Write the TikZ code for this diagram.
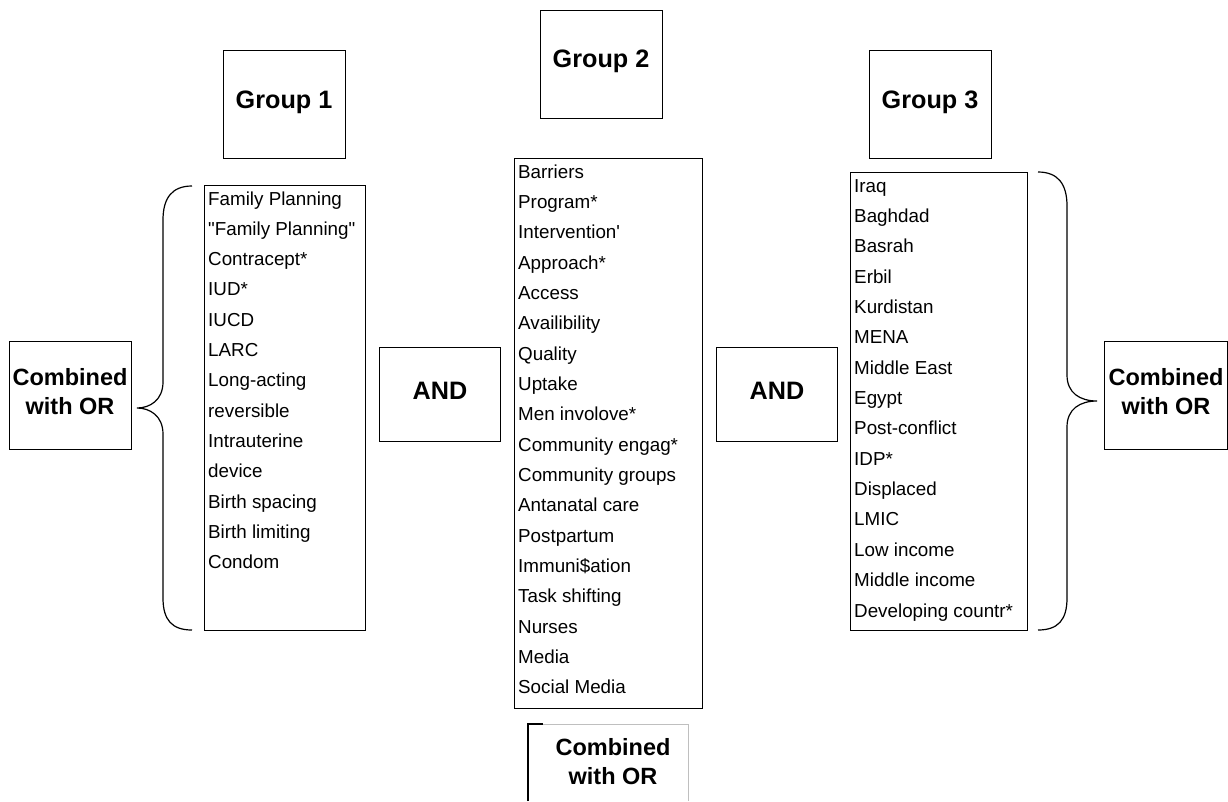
\documentclass[tikz,border=0pt]{standalone}
\usepackage{fontspec}
\setmainfont{Liberation Sans}
\newcommand\mydq{\XeTeXglyph\XeTeXcharglyph34\relax}
\newcommand\mysq{\XeTeXglyph\XeTeXcharglyph39\relax}
\begin{document}
\begin{tikzpicture}[x=1pt,y=-1pt,
  box/.style={draw=black,line width=1.2pt,inner sep=0pt,anchor=north west},
  lbl/.style={font=\fontsize{23.5}{29}\selectfont\bfseries,align=center,inner sep=0pt},
  big/.style={font=\fontsize{25.2}{29}\selectfont\bfseries,align=center,inner sep=0pt},
  item/.style={font=\fontsize{18.8}{22}\selectfont,anchor=base west,inner sep=0pt},
  brace/.style={draw=black,line width=1.2pt}]
\useasboundingbox (0,0) rectangle (1228,801);
% group header boxes
\node[box,minimum width=122pt,minimum height=108pt] (g1) at (223,50) {};
\node[big] (g1t) at (284,102) {Group 1};
\node[box,minimum width=122pt,minimum height=108pt] (g2) at (540,10) {};
\node[big] (g2t) at (601,61) {Group 2};
\node[box,minimum width=122pt,minimum height=108pt] (g3) at (869,50) {};
\node[big] (g3t) at (930,102) {Group 3};
% list boxes
\node[box,minimum width=161pt,minimum height=445pt] (l1) at (204,185) {};
\node[box,minimum width=188pt,minimum height=550pt] (l2) at (514,158) {};
\node[box,minimum width=177pt,minimum height=458pt] (l3) at (850,172) {};
% AND boxes
\node[box,minimum width=121pt,minimum height=94pt] (and1) at (379,347) {};
\node[big] (and1t) at (440,391) {AND};
\node[box,minimum width=121pt,minimum height=94pt] (and2) at (716,347) {};
\node[big] (and2t) at (777,391) {AND};
% combined boxes
\node[box,minimum width=122pt,minimum height=108pt] (cl) at (9,341) {};
\node[lbl] (clt) at (70,392) {Combined\\with OR};
\node[box,minimum width=123pt,minimum height=108pt] (cr) at (1104,341) {};
\node[lbl] (crt) at (1166,392) {Combined\\with OR};
% bottom (clipped) box
\coordinate (b1) at (528,801);
\coordinate (b2) at (528,724);
\coordinate (b3) at (543,724);
\coordinate (b4) at (688,724);
\coordinate (b5) at (688,801);
\draw[line width=1.2pt] (b1) -- (b2) -- (b3);
\draw[line width=1pt,draw=black!25] (b3) -- (b4) -- (b5);
\node[lbl] (cbt) at (613,762) {Combined\\with OR};
% list 1
\foreach \t [count=\i from 0] in {Family Planning,{\mydq Family Planning\mydq},Contracept*,IUD*,IUCD,LARC,Long-acting,reversible,Intrauterine,device,Birth spacing,Birth limiting,Condom}
  \node[item] (a\i) at (208,205+30.3*\i) {\t};
% list 2
\foreach \t [count=\i from 0] in {Barriers,Program*,Intervention\mysq,Approach*,Access,Availibility,Quality,Uptake,Men involove*,Community engag*,Community groups,Antanatal care,Postpartum,Immuni\$ation,Task shifting,Nurses,Media,Social Media}
  \node[item] (b\i) at (518,178+30.35*\i) {\t};
% list 3
\foreach \t [count=\i from 0] in {Iraq,Baghdad,Basrah,Erbil,Kurdistan,MENA,Middle East,Egypt,Post-conflict,IDP*,Displaced,LMIC,Low income,Middle income,Developing countr*}
  \node[item] (c\i) at (854,192+30.36*\i) {\t};
% braces
\draw[brace] (192,186) .. controls (172,186) and (163,198) .. (163,220) -- (163,382)
  .. controls (163,400) and (150,408) .. (137,408)
  .. controls (150,408) and (163,416) .. (163,434) -- (163,598)
  .. controls (163,620) and (172,630) .. (192,630);
\draw[brace] (1038,172) .. controls (1058,172) and (1067,184) .. (1067,206) -- (1067,375)
  .. controls (1067,393) and (1080,401) .. (1097,401)
  .. controls (1080,401) and (1067,409) .. (1067,427) -- (1067,598)
  .. controls (1067,620) and (1058,630) .. (1038,630);
\end{tikzpicture}
\end{document}
